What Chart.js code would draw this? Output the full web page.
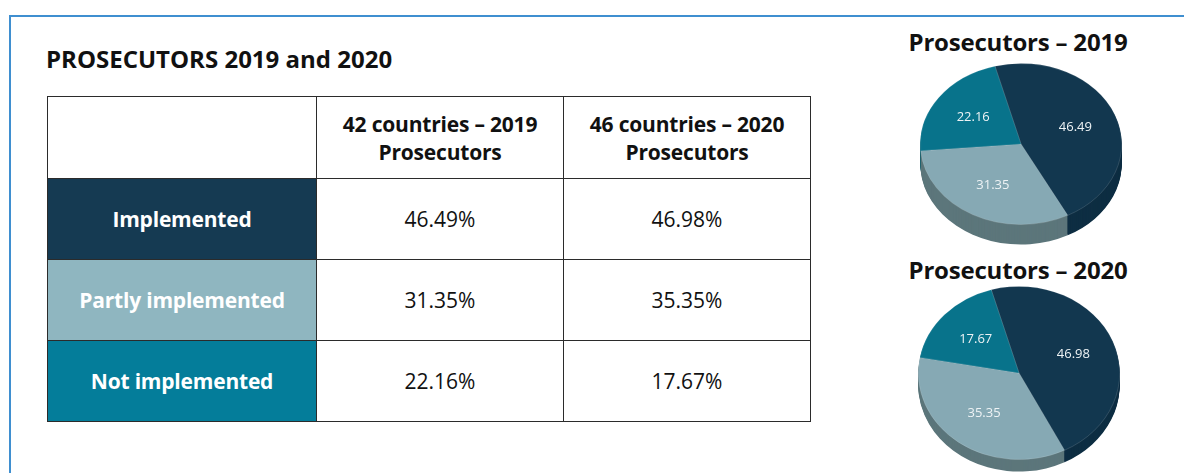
<!DOCTYPE html>
<html>
<head>
<meta charset="utf-8">
<script src="https://cdn.jsdelivr.net/npm/chart.js@4/dist/chart.umd.min.js"></script>
<style>
  html, body { margin: 0; padding: 0; background: #fff; }
  body { width: 1184px; height: 473px; overflow: hidden; position: relative; font-family: "Open Sans", sans-serif; }
  .frame { position: absolute; left: 9px; top: 15px; width: 1200px; height: 500px; border-left: 2px solid #3f8fd0; border-top: 2px solid #3f8fd0; }
  h1 { position: absolute; left: 46px; top: 42px; margin: 0; font-size: 24px; font-weight: 700; color: #111; letter-spacing: 0; }
  table { position: absolute; left: 47px; top: 96px; border-collapse: collapse; }
  td { border: 1.6px solid #2b2b2b; text-align: center; font-size: 21px; color: #111; padding: 0; }
  thead td { font-weight: 700; line-height: 28px; height: 81px; font-size: 21px; letter-spacing: -0.2px; }
  tbody td { height: 80px; }
  td.lab { color: #fff; font-weight: 700; font-size: 21px; letter-spacing: -0.2px; }
  .pt { position: absolute; width: 240px; text-align: center; font-weight: 700; font-size: 24px; color: #111; margin: 0; letter-spacing: -0.2px; }
  .pie { position: absolute; width: 202px; height: 202px; }
</style>
</head>
<body>
<div class="frame"></div>
<h1>PROSECUTORS 2019 and 2020</h1>
<table id="tbl"></table>
<div class="pt" style="left:898px; top:25px;">Prosecutors – 2019</div>
<div class="pt" style="left:898px; top:253px;">Prosecutors – 2020</div>
<div class="pie" style="left:920px; top:43px;"><canvas id="pie2019"></canvas></div>
<div class="pie" style="left:918px; top:272px;"><canvas id="pie2020"></canvas></div>
<script>
// data
const categories = ["Implemented", "Partly implemented", "Not implemented"];
const columns = ["42 countries – 2019<br>Prosecutors", "46 countries – 2020<br>Prosecutors"];
const values2019 = [46.49, 31.35, 22.16];
const values2020 = [46.98, 35.35, 17.67];

// colours
const rowColors = ["#153a52", "#8fb6c0", "#047d9a"];
const topColors = ["#12374f", "#86a9b4", "#08738b"];
const sideColors = ["#0e2e43", "#5c767b", "#055a6b"];

// table
const tbl = document.querySelector("#tbl");
let html = '<thead><tr><td style="width:268px"></td>';
columns.forEach((c) => (html += '<td style="width:246px">' + c + "</td>"));
html += "</tr></thead><tbody>";
categories.forEach((cat, i) => {
  html += '<tr><td class="lab" style="background:' + rowColors[i] + '">' + cat + "</td>";
  html += "<td>" + values2019[i].toFixed(2) + "%</td>";
  html += "<td>" + values2020[i].toFixed(2) + "%</td></tr>";
});
html += "</tbody>";
tbl.innerHTML = html;

// fake 3d: squash the pie and draw a darker side under it
const pie3d = {
  id: "pie3d",
  beforeDatasetsDraw(chart, args, opts) {
    const ctx = chart.ctx;
    const arcs = chart.getDatasetMeta(0).data;
    const { x, y } = arcs[0];
    for (let k = opts.depth; k >= 1; k--) {
      ctx.save();
      ctx.translate(x, y + k);
      ctx.scale(1, opts.squash);
      ctx.translate(-x, -y);
      arcs.forEach((a, i) => {
        ctx.beginPath();
        ctx.moveTo(a.x, a.y);
        ctx.arc(a.x, a.y, a.outerRadius, a.startAngle, a.endAngle);
        ctx.closePath();
        ctx.fillStyle = sideColors[i];
        ctx.fill();
      });
      ctx.restore();
    }
    ctx.save();
    ctx.translate(x, y);
    ctx.scale(1, opts.squash);
    ctx.translate(-x, -y);
  },
  afterDatasetsDraw(chart, args, opts) {
    const ctx = chart.ctx;
    ctx.restore();
    const arcs = chart.getDatasetMeta(0).data;
    const vals = chart.data.datasets[0].data;
    ctx.save();
    ctx.font = '13px "Open Sans", sans-serif';
    ctx.fillStyle = "#eef3f5";
    ctx.textAlign = "center";
    ctx.textBaseline = "middle";
    arcs.forEach((a, i) => {
      const mid = (a.startAngle + a.endAngle) / 2;
      const r = a.outerRadius * 0.58;
      ctx.fillText(vals[i].toFixed(2), a.x + Math.cos(mid) * r, a.y + Math.sin(mid) * r * opts.squash);
    });
    ctx.restore();
  },
};

function drawPie(id, values, rotation, squash, depth) {
  new Chart(document.querySelector(id), {
    type: "pie",
    data: {
      labels: categories,
      datasets: [
        {
          data: values,
          backgroundColor: topColors,
          borderColor: "rgba(255,255,255,0.25)",
          borderWidth: 0.6,
          hoverOffset: 0,
        },
      ],
    },
    options: {
      responsive: true,
      maintainAspectRatio: false,
      animation: false,
      rotation: rotation,
      layout: { padding: 0 },
      events: [],
      plugins: {
        legend: { display: false },
        tooltip: { enabled: false },
        pie3d: { squash: squash, depth: depth },
      },
    },
    plugins: [pie3d],
  });
}

drawPie("#pie2019", values2019, -15, 0.8, 20);
drawPie("#pie2020", values2020, -16, 0.86, 12);
</script>
</body>
</html>
